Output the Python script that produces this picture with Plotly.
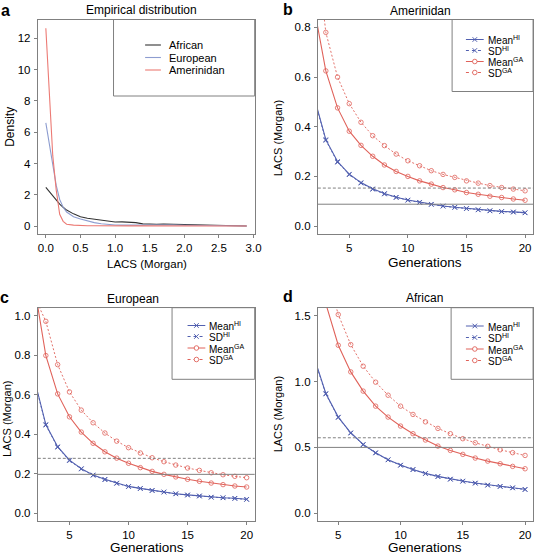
import plotly.graph_objects as go

W, H = 544, 556
FONT = "Liberation Sans, Arial, sans-serif"

# ---------------- data ----------------
# panel a: empirical densities
dens_x = [0, 0.05, 0.1, 0.15, 0.2, 0.25, 0.3, 0.4, 0.5, 0.6, 0.7, 0.8, 0.9, 1.0, 1.1, 1.2, 1.3,
          1.4, 1.5, 1.6, 1.7, 1.8, 2.0, 2.2, 2.4, 2.6, 2.9]
dens_african = [2.47, 2.2, 1.9, 1.65, 1.4, 1.2, 1.02, 0.78, 0.6, 0.5, 0.43, 0.36, 0.3, 0.26, 0.27, 0.25,
                0.22, 0.14, 0.11, 0.12, 0.13, 0.12, 0.09, 0.05, 0.02, 0.01, 0.0]
dens_european = [6.6, 5.2, 3.9, 2.6, 1.7, 1.2, 0.9, 0.6, 0.45, 0.32, 0.22, 0.15, 0.1, 0.07, 0.06, 0.05,
                 0.05, 0.06, 0.07, 0.08, 0.08, 0.07, 0.05, 0.03, 0.02, 0.01, 0.0]
dens_amerindian = [12.65, 8.2, 4.5, 2.3, 0.75, 0.3, 0.12, 0.06, 0.03, 0.02, 0.02, 0.01, 0.01, 0.01, 0.01,
                   0.01, 0.01, 0.01, 0.01, 0.01, 0.01, 0.01, 0.01, 0.0, 0.0, 0.0, 0.0]

# panel b: Amerinidan
gens_b = list(range(2, 21))
b_mean_hi = [0.52, 0.348, 0.26, 0.209, 0.175, 0.150, 0.131, 0.116, 0.105, 0.096, 0.088, 0.081, 0.076,
             0.071, 0.066, 0.062, 0.059, 0.057, 0.054]
b_sd_hi = [0.515, 0.345, 0.257, 0.207, 0.173, 0.148, 0.129, 0.115, 0.104, 0.095, 0.087, 0.080, 0.075,
           0.070, 0.065, 0.061, 0.058, 0.056, 0.053]
b_mean_ga = [0.88, 0.625, 0.476, 0.382, 0.325, 0.281, 0.246, 0.220, 0.200, 0.182, 0.169, 0.155, 0.146,
             0.135, 0.128, 0.120, 0.115, 0.109, 0.104]
b_sd_ga = [1.2, 0.78, 0.60, 0.493, 0.418, 0.364, 0.324, 0.290, 0.263, 0.243, 0.223, 0.208, 0.196,
           0.182, 0.173, 0.163, 0.155, 0.149, 0.142]

# panel c: European
gens_c = list(range(2, 21))
c_mean_hi = [0.685, 0.449, 0.337, 0.269, 0.226, 0.194, 0.172, 0.153, 0.136, 0.126, 0.116, 0.108, 0.099,
             0.093, 0.088, 0.082, 0.079, 0.076, 0.071]
c_sd_hi = [0.68, 0.446, 0.334, 0.266, 0.224, 0.192, 0.170, 0.151, 0.135, 0.125, 0.115, 0.107, 0.098,
           0.092, 0.087, 0.081, 0.078, 0.075, 0.070]
c_mean_ga = [1.16, 0.798, 0.604, 0.488, 0.411, 0.354, 0.311, 0.279, 0.253, 0.231, 0.212, 0.197, 0.184,
             0.172, 0.162, 0.153, 0.145, 0.138, 0.133]
c_sd_ga = [1.1, 0.971, 0.752, 0.614, 0.522, 0.458, 0.406, 0.365, 0.332, 0.305, 0.281, 0.261, 0.244,
           0.229, 0.217, 0.205, 0.195, 0.187, 0.180]

# panel d: African
gens_d = list(range(3, 21))
d_mean_hi = [1.2, 0.909, 0.730, 0.611, 0.523, 0.460, 0.407, 0.366, 0.333, 0.303, 0.280, 0.260, 0.245,
             0.230, 0.215, 0.205, 0.194, 0.182]
d_sd_hi = [1.19, 0.905, 0.727, 0.608, 0.520, 0.457, 0.405, 0.364, 0.331, 0.301, 0.278, 0.258, 0.243,
           0.228, 0.213, 0.203, 0.192, 0.180]
d_mean_ga = [2.1, 1.59, 1.275, 1.073, 0.927, 0.813, 0.730, 0.662, 0.604, 0.556, 0.510, 0.477, 0.447,
             0.419, 0.396, 0.376, 0.356, 0.338]
d_sd_ga = [2.5, 1.85, 1.508, 1.280, 1.116, 0.995, 0.896, 0.813, 0.750, 0.694, 0.644, 0.604, 0.566,
           0.535, 0.508, 0.482, 0.460, 0.439]

# empirical mean / SD reference lines (panels b, c, d)
emp_mean = [0.088, 0.197, 0.50]
emp_sd = [0.153, 0.278, 0.573]

# tick labels
ticks_a_x = [0, 0.5, 1.0, 1.5, 2.0, 2.5, 3.0]
ticks_a_y = [0, 2, 4, 6, 8, 10, 12]
ticks_gen = [5, 10, 15, 20]
ticks_b_y = [0, 0.2, 0.4, 0.6, 0.8]
ticks_c_y = [0, 0.2, 0.4, 0.6, 0.8, 1.0]
ticks_d_y = [0, 0.5, 1.0, 1.5]

# ---------------- styles ----------------
BLUE = "#5260b0"
RED = "#e0625a"
C_AFR = "#333333"
C_EUR = "#8d9dd0"
C_AME = "#ec7a74"
AXC = "#808080"


def px(x):
    return x / W


def py(y):
    return 1 - y / H


fig = go.Figure()

# panel a
for xs, ys, col, nm in [(dens_x, dens_african, C_AFR, "African"),
                        (dens_x, dens_european, C_EUR, "European"),
                        (dens_x, dens_amerindian, C_AME, "Amerinidan")]:
    fig.add_trace(go.Scatter(x=xs, y=ys, mode="lines", line=dict(color=col, width=1.1),
                             name=nm, xaxis="x", yaxis="y", showlegend=False))

panels = [
    ("x2", "y2", gens_b, b_mean_hi, b_sd_hi, b_mean_ga, b_sd_ga),
    ("x3", "y3", gens_c, c_mean_hi, c_sd_hi, c_mean_ga, c_sd_ga),
    ("x4", "y4", gens_d, d_mean_hi, d_sd_hi, d_mean_ga, d_sd_ga),
]
for xa, ya, g, mh, sh, mg, sg in panels:
    fig.add_trace(go.Scatter(x=g, y=sg, mode="lines+markers", xaxis=xa, yaxis=ya, showlegend=False,
                             line=dict(color=RED, width=0.9, dash="2px,2px"),
                             marker=dict(symbol="circle-open", size=4.5, color=RED,
                                         line=dict(width=0.8, color=RED))))
    fig.add_trace(go.Scatter(x=g, y=mg, mode="lines+markers", xaxis=xa, yaxis=ya, showlegend=False,
                             line=dict(color=RED, width=1.1),
                             marker=dict(symbol="circle-open", size=4.5, color=RED,
                                         line=dict(width=0.8, color=RED))))
    fig.add_trace(go.Scatter(x=g, y=mh, mode="lines+markers", xaxis=xa, yaxis=ya, showlegend=False,
                             line=dict(color=BLUE, width=1.1),
                             marker=dict(symbol="x-thin", size=4.5, color=BLUE,
                                         line=dict(width=1, color=BLUE))))
    fig.add_trace(go.Scatter(x=g, y=sh, mode="lines+markers", xaxis=xa, yaxis=ya, showlegend=False,
                             line=dict(color=BLUE, width=0.9, dash="2px,2px"),
                             marker=dict(symbol="x-thin", size=4.5, color=BLUE,
                                         line=dict(width=1, color=BLUE))))

shapes = []
for (xa, ya), m, s in zip([("x2", "y2"), ("x3", "y3"), ("x4", "y4")], emp_mean, emp_sd):
    shapes.append(dict(type="line", xref=f"{xa} domain", yref=ya, x0=0, x1=1, y0=m, y1=m,
                       line=dict(color=AXC, width=1)))
    shapes.append(dict(type="line", xref=f"{xa} domain", yref=ya, x0=0, x1=1, y0=s, y1=s,
                       line=dict(color=AXC, width=1, dash="3px,2px")))

ax_common = dict(showline=True, mirror=True, linecolor=AXC, linewidth=1, ticks="outside",
                 ticklen=3, tickcolor=AXC, showgrid=False, zeroline=False,
                 tickfont=dict(family=FONT, size=11.5, color="black"))

XA = [px(38.3), px(258)]
XB = [px(322), px(540)]
YTOP = [py(234), py(19.5)]
YBOT = [py(521.2), py(307.7)]

fig.update_layout(
    width=W, height=H, margin=dict(l=0, r=0, t=0, b=0),
    paper_bgcolor="white", plot_bgcolor="white",
    font=dict(family=FONT, color="black"),
    xaxis=dict(domain=XA, range=[-0.116, 3.016], anchor="y", tickvals=ticks_a_x,
               tickformat=".1f", ticklabelstandoff=0, **ax_common),
    yaxis=dict(domain=YTOP, range=[-0.508, 13.208], anchor="x", tickvals=ticks_a_y,
               ticklabelstandoff=1, **ax_common),
    xaxis2=dict(domain=XB, range=[2.32, 20.68], anchor="y2", tickvals=ticks_gen,
                ticklabelstandoff=0, **ax_common),
    yaxis2=dict(domain=YTOP, range=[-0.032, 0.832], anchor="x2", tickvals=ticks_b_y,
                tickformat=".1f", ticklabelstandoff=1, **ax_common),
    xaxis3=dict(domain=XA, range=[2.32, 20.68], anchor="y3", tickvals=ticks_gen,
                ticklabelstandoff=0, **ax_common),
    yaxis3=dict(domain=YBOT, range=[-0.04, 1.04], anchor="x3", tickvals=ticks_c_y,
                tickformat=".1f", ticklabelstandoff=1, **ax_common),
    xaxis4=dict(domain=XB, range=[3.36, 20.64], anchor="y4", tickvals=ticks_gen,
                ticklabelstandoff=0, **ax_common),
    yaxis4=dict(domain=YBOT, range=[-0.06, 1.56], anchor="x4", tickvals=ticks_d_y,
                tickformat=".1f", ticklabelstandoff=1, **ax_common),
)

ann = []


def text(x, y, s, size, bold=False, xanchor="center", angle=0):
    ann.append(dict(x=px(x), y=py(y), xref="paper", yref="paper", text=f"<b>{s}</b>" if bold else s,
                    showarrow=False, xanchor=xanchor, yanchor="middle", textangle=angle,
                    font=dict(family=FONT, size=size, color="black")))


# panel letters
text(6, 10, "a", 16, bold=True)
text(292, 9, "b", 16, bold=True)
text(5, 297, "c", 16, bold=True)
text(292, 296, "d", 16, bold=True)
# titles
text(143, 10, "Empirical distribution", 12)
text(426, 11, "Amerinidan", 12)
text(135, 298.5, "European", 12)
text(430, 298, "African", 12)
# axis titles
text(149, 264, "LACS (Morgan)", 11.5)
text(431, 263, "Generations", 13.5)
text(149, 547, "Generations", 13.5)
text(431, 547, "Generations", 13.5)
text(10, 127, "Density", 12, angle=-90)
text(282, 138, "LACS (Morgan)", 11, angle=-90)
text(7, 419, "LACS (Morgan)", 11, angle=-90)
text(282, 414, "LACS (Morgan)", 11, angle=-90)

# legend a
shapes.append(dict(type="rect", xref="paper", yref="paper", x0=px(115), x1=px(258), y0=py(96), y1=py(19.5),
                   line=dict(color=AXC, width=1), fillcolor="rgba(0,0,0,0)"))
for yy, col, nm in [(45, C_AFR, "African"), (57.5, C_EUR, "European"), (70, C_AME, "Amerinidan")]:
    shapes.append(dict(type="line", xref="paper", yref="paper", x0=px(147), x1=px(163), y0=py(yy), y1=py(yy),
                       line=dict(color=col, width=1.1)))
    text(169, yy, nm, 11, xanchor="left")


# legends b, c, d
def hi_leg(x0, x1, x2, rows, box):
    bx0, bx1, by0, by1 = box
    shapes.append(dict(type="rect", xref="paper", yref="paper", x0=px(bx0), x1=px(bx1), y0=py(by1), y1=py(by0),
                       line=dict(color=AXC, width=1), fillcolor="rgba(0,0,0,0)"))
    specs = [(BLUE, None, "x", "Mean<sup>HI</sup>"), (BLUE, "3px,3px", "x", "SD<sup>HI</sup>"),
             (RED, None, "o", "Mean<sup>GA</sup>"), (RED, "3px,3px", "o", "SD<sup>GA</sup>")]
    for yy, (col, dash, mk, lab) in zip(rows, specs):
        ln = dict(color=col, width=1)
        if dash:
            ln["dash"] = dash
        shapes.append(dict(type="line", xref="paper", yref="paper", x0=px(x0), x1=px(x1), y0=py(yy), y1=py(yy),
                           line=ln))
        xm = (x0 + x1) / 2
        r = 2.3
        if mk == "x":
            shapes.append(dict(type="line", xref="paper", yref="paper", x0=px(xm - r), x1=px(xm + r),
                               y0=py(yy - r), y1=py(yy + r), line=dict(color=col, width=1)))
            shapes.append(dict(type="line", xref="paper", yref="paper", x0=px(xm - r), x1=px(xm + r),
                               y0=py(yy + r), y1=py(yy - r), line=dict(color=col, width=1)))
        else:
            shapes.append(dict(type="circle", xref="paper", yref="paper", x0=px(xm - r), x1=px(xm + r),
                               y0=py(yy + r), y1=py(yy - r), line=dict(color=col, width=0.9),
                               fillcolor="white"))
        text(x2, yy + 0.5, lab, 10, xanchor="left")


hi_leg(472, 490, 492, [39.5, 50.5, 61.5, 72.5], (458, 540, 19.5, 91.5))
hi_leg(190, 208, 210, [325.5, 336.5, 348, 359.5], (174.3, 258, 307.7, 379.3))
hi_leg(472, 490, 492, [326, 337.5, 349, 360.5], (457, 540, 307.7, 379.3))

fig.update_layout(shapes=shapes, annotations=ann)
fig.write_html("out.html", config={"displayModeBar": False},
               post_script="document.body.style.margin='0';document.body.style.padding='0';")
